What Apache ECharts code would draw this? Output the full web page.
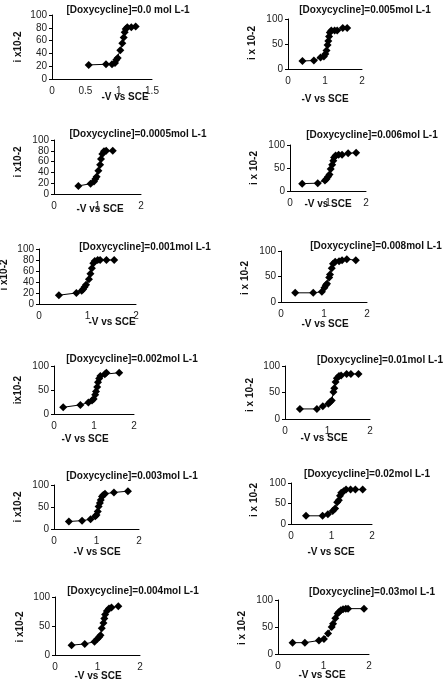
<!DOCTYPE html>
<html>
<head>
<meta charset="utf-8">
<script src="https://cdn.jsdelivr.net/npm/echarts@6/dist/echarts.min.js"></script>
<style>
  html, body { margin: 0; padding: 0; background: #fff; }
  #main { width: 444px; height: 679px; }
</style>
</head>
<body>
<div id="main"></div>
<script>
// panel titles, in reading order (left column, right column per row)
var titles = [
  '[Doxycycline]=0.0 mol L-1', '[Doxycycline]=0.005mol L-1',
  '[Doxycycline]=0.0005mol L-1', '[Doxycycline]=0.006mol L-1',
  '[Doxycycline]=0.001mol L-1', '[Doxycycline]=0.008mol L-1',
  '[Doxycycline]=0.002mol L-1', '[Doxycycline]=0.01mol L-1',
  '[Doxycycline]=0.003mol L-1', '[Doxycycline]=0.02mol L-1',
  '[Doxycycline]=0.004mol L-1', '[Doxycycline]=0.03mol L-1'
]
var yNames = [
  'i x10-2', 'i x 10-2', 'i x10-2', 'i x 10-2', 'i x10-2', 'i x 10-2',
  'ix10-2', 'i x 10-2', 'i x10-2', 'i x 10-2', 'i x10-2', 'i x 10-2'
]
var xName = '-V vs SCE'

// potential (-V vs SCE)
var volts = [
  [0.55, 0.81, 0.9, 0.945, 0.965, 0.985, 1.025, 1.055, 1.075, 1.09, 1.105, 1.13, 1.19, 1.255],
  [0.39, 0.7, 0.88, 0.97, 1.01, 1.04, 1.07, 1.09, 1.11, 1.13, 1.17, 1.26, 1.33, 1.48, 1.6],
  [0.56, 0.84, 0.92, 0.95, 0.98, 1.02, 1.06, 1.08, 1.11, 1.15, 1.2, 1.35],
  [0.32, 0.73, 0.92, 0.96, 1.0, 1.04, 1.07, 1.11, 1.14, 1.16, 1.2, 1.28, 1.37, 1.53, 1.74],
  [0.41, 0.77, 0.88, 0.91, 0.94, 0.97, 1.03, 1.06, 1.09, 1.12, 1.15, 1.21, 1.26, 1.39, 1.55],
  [0.33, 0.75, 0.95, 1.01, 1.04, 1.07, 1.12, 1.14, 1.18, 1.21, 1.26, 1.35, 1.42, 1.53, 1.74],
  [0.23, 0.66, 0.86, 0.95, 0.99, 1.03, 1.05, 1.08, 1.1, 1.13, 1.16, 1.27, 1.31, 1.63],
  [0.35, 0.75, 0.89, 1.02, 1.06, 1.1, 1.14, 1.16, 1.19, 1.22, 1.27, 1.32, 1.45, 1.55, 1.73],
  [0.35, 0.66, 0.86, 0.97, 1.0, 1.03, 1.05, 1.08, 1.1, 1.13, 1.16, 1.2, 1.41, 1.74],
  [0.37, 0.78, 0.91, 1.03, 1.09, 1.14, 1.18, 1.21, 1.24, 1.3, 1.36, 1.47, 1.59, 1.77],
  [0.39, 0.7, 0.93, 1.0, 1.04, 1.07, 1.1, 1.14, 1.16, 1.18, 1.22, 1.27, 1.33, 1.49],
  [0.32, 0.59, 0.9, 1.01, 1.1, 1.18, 1.21, 1.26, 1.31, 1.34, 1.38, 1.43, 1.49, 1.54, 1.89]
]
// current (i x 10-2)
var currents = [
  [22, 23, 23, 25, 30, 33, 45, 56, 65, 73, 78, 81, 81, 82],
  [16, 17, 23, 25, 30, 37, 48, 56, 65, 73, 77, 77, 77, 82, 82],
  [15, 19, 23, 28, 32, 43, 54, 65, 74, 79, 80, 80],
  [16, 17, 23, 26, 31, 36, 48, 57, 66, 73, 77, 79, 79, 82, 83],
  [16, 20, 24, 27, 31, 35, 45, 55, 65, 74, 78, 80, 80, 80, 80],
  [18, 18, 20, 28, 33, 36, 48, 54, 66, 75, 79, 80, 82, 84, 82],
  [14, 19, 24, 28, 31, 40, 47, 56, 66, 74, 79, 83, 86, 86],
  [19, 19, 24, 29, 32, 35, 51, 58, 70, 77, 81, 82, 85, 85, 85],
  [17, 19, 22, 29, 32, 40, 51, 59, 66, 74, 77, 80, 83, 86],
  [20, 20, 24, 32, 38, 53, 58, 69, 76, 80, 84, 84, 84, 84],
  [17, 19, 23, 28, 31, 34, 46, 55, 63, 70, 76, 80, 82, 84],
  [21, 21, 25, 28, 38, 50, 56, 66, 75, 78, 81, 83, 84, 84, 84]
]
var xMaxs = [1.5, 2, 2, 2, 2, 2, 2, 2, 2, 2, 2, 2]
var xSteps = [0.5, 1, 1, 1, 1, 1, 1, 1, 1, 1, 1, 1]
var ySteps = [20, 50, 20, 50, 20, 50, 50, 50, 50, 50, 50, 50]

// [left, top, width, height, titleX, titleY, xNameX, xNameY, yNameX, yNameY]
var layout = [
  [52, 15, 100, 64, 123, 6, 125, 97, 18, 47],
  [288, 19, 74, 50, 360, 6, 325, 99, 252, 43],
  [54, 140, 87, 54, 133, 130, 100, 209, 18, 162],
  [290, 145, 76, 46, 367, 131, 328, 204, 254, 168],
  [39, 249, 97, 55, 140, 243, 112, 322, 4, 275],
  [281, 251, 86, 51, 371, 242, 325, 324, 245, 278],
  [54, 366, 80, 48, 127, 355, 85, 439, 18, 390],
  [285, 366, 85, 53, 375, 356, 324, 438, 250, 395],
  [54, 485, 85, 44, 127, 472, 97, 552, 18, 507],
  [291, 483, 81, 41, 362, 470, 331, 552, 254, 500],
  [55, 597, 85, 58, 128, 587, 98, 676, 20, 627],
  [278, 600, 91, 54, 367, 588, 322, 675, 242, 628]
]

var font = 'Liberation Sans, Arial, sans-serif'
var grid = [], xAxis = [], yAxis = [], series = [], title = [], graphic = []

titles.forEach(function (t, k) {
  var L = layout[k]
  grid.push({ left: L[0], top: L[1], width: L[2], height: L[3] })
  xAxis.push({
    type: 'value', gridIndex: k, min: 0, max: xMaxs[k], interval: xSteps[k],
    axisLine: { onZero: false, lineStyle: { color: '#000', width: 1 } },
    axisTick: { show: false },
    splitLine: { show: false },
    axisLabel: { fontFamily: font, fontSize: 10, color: '#222', margin: 7 }
  })
  yAxis.push({
    type: 'value', gridIndex: k, min: 0, max: 100, interval: ySteps[k],
    axisLine: { show: true, lineStyle: { color: '#000', width: 1 } },
    axisTick: { show: true, length: 3, lineStyle: { color: '#000' } },
    splitLine: { show: false },
    axisLabel: { fontFamily: font, fontSize: 10, color: '#222', margin: 5 }
  })
  series.push({
    type: 'line', xAxisIndex: k, yAxisIndex: k,
    data: volts[k].map(function (v, j) { return [v, currents[k][j]] }),
    symbol: 'diamond', symbolSize: 8,
    itemStyle: { color: '#000' },
    lineStyle: { color: '#000', width: 1 },
    animation: false
  })
  title.push({
    text: t, left: L[4], top: L[5] - 6, textAlign: 'center',
    textStyle: { fontFamily: font, fontSize: 10, fontWeight: 'bold', color: '#111' }
  })
  graphic.push({
    type: 'text', x: L[6], y: L[7],
    style: { text: xName, font: 'bold 10px ' + font, fill: '#111', align: 'center', verticalAlign: 'middle' }
  })
  graphic.push({
    type: 'text', x: L[8], y: L[9], rotation: Math.PI / 2,
    style: { text: yNames[k], font: 'bold 10px ' + font, fill: '#111', align: 'center', verticalAlign: 'middle' }
  })
})

var myChart = echarts.init(document.getElementById('main'))
myChart.setOption({
  backgroundColor: '#fff',
  animation: false,
  title: title,
  grid: grid,
  xAxis: xAxis,
  yAxis: yAxis,
  series: series,
  graphic: graphic
})
</script>
</body>
</html>
